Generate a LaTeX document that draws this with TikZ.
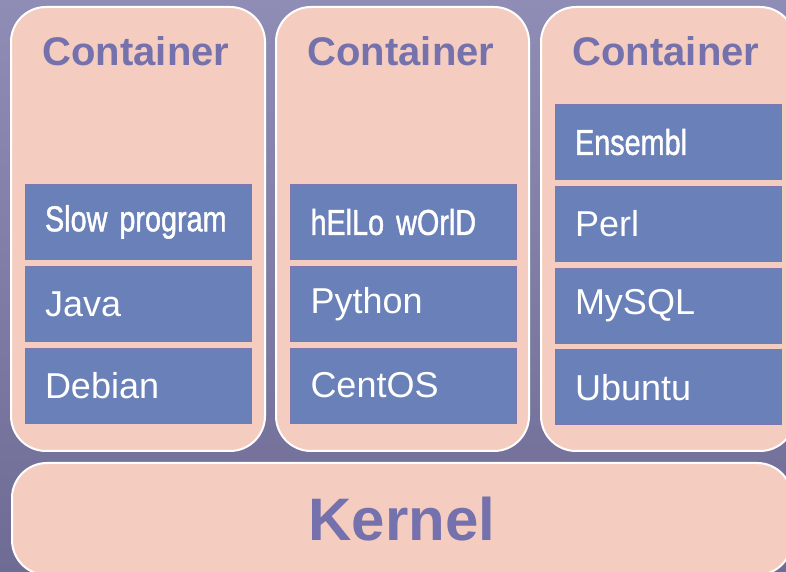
\documentclass[tikz,border=0pt]{standalone}
\usepackage{fontspec}
\setmainfont{Liberation Sans}
\newfontfamily\narrowfont[FakeStretch=0.8,FakeBold=1.2]{Liberation Sans}
\usetikzlibrary{positioning}
\definecolor{bgtop}{RGB}{143,141,182}
\definecolor{bgbot}{RGB}{110,108,149}
\definecolor{peach}{RGB}{244,205,192}
\definecolor{layerblue}{RGB}{106,128,184}
\definecolor{layeredge}{RGB}{128,118,175}
\definecolor{titlepurple}{RGB}{117,113,173}

\begin{document}
\begin{tikzpicture}[
x=1pt, y=1pt,
node distance=6pt,
box/.style={draw=white, line width=2pt, fill=peach, rounded corners=35pt},
title/.style={font=\fontsize{40}{48}\selectfont\bfseries, text=titlepurple, anchor=base},
layer/.style={draw=layeredge, line width=0.8pt, fill=layerblue, text=white,
  minimum height=75pt, text width=186pt, inner xsep=20pt, align=left,
  font=\fontsize{36}{43}\selectfont},
app/.style={layer, font=\narrowfont\fontsize{36}{43}\selectfont}]

\clip (0,0) rectangle (786,572);
\shade[top color=bgtop, bottom color=bgbot] (0,0) rectangle (786,572);

% containers
\node[box, minimum width=254pt, minimum height=444pt] (c1) at (138,343) {};
\node[box, minimum width=253pt, minimum height=444pt] (c2) at (402.5,343) {};
\node[box, minimum width=254pt, minimum height=444pt] (c3) at (668,343) {};

\node[title] (t1) at (136,506) {Container};
\node[title] (t2) at (401,506) {Container};
\node[title] (t3) at (666,506) {Container};

% container 1
\node[app] (slow) at (138,350) {Slow program};
\node[layer, below=of slow] (java) {Java};
\node[layer, below=of java] (debian) {Debian};

% container 2
\node[app] (hello) at (403.5,350) {hElLo wOrlD};
\node[layer, below=of hello] (python) {Python};
\node[layer, below=of python] (centos) {CentOS};

% container 3
\node[app] (ensembl) at (668,430) {Ensembl};
\node[layer, below=of ensembl] (perl) {Perl};
\node[layer, below=of perl] (mysql) {MySQL};
\node[layer, below=of mysql] (ubuntu) {Ubuntu};

% kernel
\node[box, minimum width=780pt, minimum height=112pt, text=titlepurple,
  font=\fontsize{60}{72}\selectfont\bfseries] (kernel) at (402,53) {Kernel};
\end{tikzpicture}
\end{document}
